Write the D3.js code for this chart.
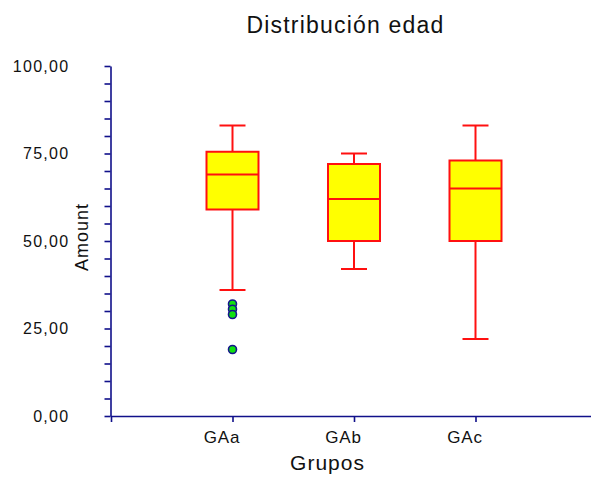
<!DOCTYPE html>
<html>
<head>
<meta charset="utf-8">
<script src="https://cdn.jsdelivr.net/npm/d3@7"></script>
<style>
  html, body { margin: 0; padding: 0; background: #fff; }
  svg { display: block; }
  text { font-family: "Liberation Sans", Arial, sans-serif; fill: #111; }
</style>
</head>
<body>
<svg id="chart" width="591" height="479"></svg>
<script>
// Grouped age distribution: five-number summaries plus outliers per group
const categories = ["GAa", "GAb", "GAc"];
const whiskerLow = [36, 42, 22];
const q1 = [59, 50, 50];
const median = [69, 62, 65];
const q3 = [75.5, 72, 73];
const whiskerHigh = [83, 75, 83];
const outliers = [[32, 30.5, 29, 19], [], []];
const yTicks = [0, 25, 50, 75, 100];

const title = "Distribución edad";
const xTitle = "Grupos";
const yTitle = "Amount";

const svg = d3.select("#chart");
const axisColor = "#10108a";

const x = d3.scalePoint().domain(categories).range([111, 597]).padding(1);
const y = d3.scaleLinear().domain([0, 100]).range([416, 66]);

const fmt = d => d3.format(".2f")(d).replace(".", ",");

// Y axis: minor ticks every 5, labels every 25
const yAxis = d3.axisLeft(y)
  .tickValues(d3.range(0, 101, 5))
  .tickSize(6)
  .tickSizeOuter(0)
  .tickPadding(35)
  .tickFormat(d => yTicks.includes(d) ? fmt(d) : "");
const gy = svg.append("g").attr("transform", "translate(110.5,0)").call(yAxis);
gy.selectAll("path, line").attr("stroke", axisColor).attr("stroke-width", 1.6);
gy.selectAll("text")
  .style("font-size", "16px")
  .style("letter-spacing", "1.3px")
  .attr("fill", "#222");

// X axis
const xAxis = d3.axisBottom(x).tickSize(6).tickSizeOuter(6).tickPadding(9);
const gx = svg.append("g").attr("transform", "translate(0,416)").call(xAxis);
gx.selectAll("path, line").attr("stroke", axisColor).attr("stroke-width", 1.6);
gx.selectAll("text")
  .style("font-size", "17px")
  .style("letter-spacing", "0.8px")
  .attr("dx", -11)
  .attr("fill", "#222");

// Boxes
const boxW = 52, capW = 26;
const groups = svg.append("g").selectAll("g")
  .data(categories.map((c, i) => ({
    c, lo: whiskerLow[i], q1: q1[i], med: median[i], q3: q3[i], hi: whiskerHigh[i], out: outliers[i]
  })))
  .join("g")
  .attr("transform", d => `translate(${x(d.c)},0)`);

const red = "#ff1010";
groups.append("line")
  .attr("x1", 0).attr("x2", 0)
  .attr("y1", d => y(d.hi)).attr("y2", d => y(d.lo))
  .attr("stroke", red).attr("stroke-width", 2);
groups.append("line")
  .attr("x1", -capW / 2).attr("x2", capW / 2)
  .attr("y1", d => y(d.hi)).attr("y2", d => y(d.hi))
  .attr("stroke", red).attr("stroke-width", 2);
groups.append("line")
  .attr("x1", -capW / 2).attr("x2", capW / 2)
  .attr("y1", d => y(d.lo)).attr("y2", d => y(d.lo))
  .attr("stroke", red).attr("stroke-width", 2);
groups.append("rect")
  .attr("x", -boxW / 2).attr("width", boxW)
  .attr("y", d => y(d.q3)).attr("height", d => y(d.q1) - y(d.q3))
  .attr("fill", "#ffff00").attr("stroke", red).attr("stroke-width", 2);
groups.append("line")
  .attr("x1", -boxW / 2).attr("x2", boxW / 2)
  .attr("y1", d => y(d.med)).attr("y2", d => y(d.med))
  .attr("stroke", red).attr("stroke-width", 2);

groups.selectAll("circle")
  .data(d => d.out)
  .join("circle")
  .attr("cx", 0).attr("cy", v => y(v)).attr("r", 4)
  .attr("fill", "#10e010").attr("stroke", "#14148c").attr("stroke-width", 1.6);

// Titles
svg.append("text")
  .attr("x", 345.5).attr("y", 33)
  .attr("text-anchor", "middle")
  .style("font-size", "23px")
  .style("letter-spacing", "1.2px")
  .text(title);

svg.append("text")
  .attr("x", 327.5).attr("y", 470)
  .attr("text-anchor", "middle")
  .style("font-size", "21px")
  .style("letter-spacing", "1px")
  .text(xTitle);

svg.append("text")
  .attr("transform", "translate(88,237) rotate(-90)")
  .attr("text-anchor", "middle")
  .style("font-size", "18px")
  .style("letter-spacing", "1px")
  .text(yTitle);
</script>
</body>
</html>
